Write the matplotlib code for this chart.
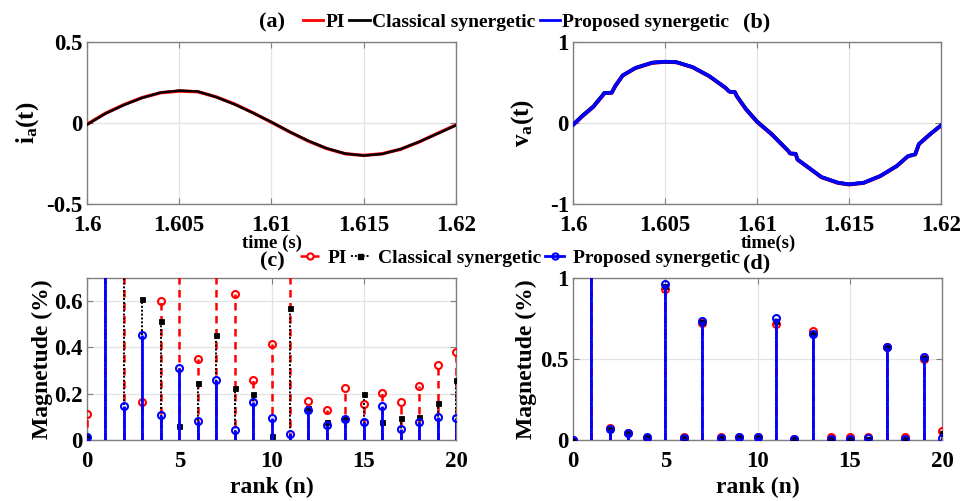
import numpy as np
import matplotlib
matplotlib.use("Agg")
import matplotlib.pyplot as plt
from matplotlib.lines import Line2D
from matplotlib.legend_handler import HandlerLine2D

plt.rcParams.update({
    "font.family": ["Liberation Serif", "DejaVu Serif"],
    "font.weight": "bold",
    "axes.labelweight": "bold",
    "axes.unicode_minus": False,
    "mathtext.fontset": "custom",
    "mathtext.rm": "Liberation Serif:bold",
    "mathtext.it": "Liberation Serif:bold",
    "mathtext.bf": "Liberation Serif:bold",
})

# ---------------- data ----------------
# phase current i_a(t)
t_cur = [1.600, 1.601, 1.602, 1.603, 1.604, 1.605, 1.606, 1.607, 1.608, 1.609, 1.610,
         1.611, 1.612, 1.613, 1.614, 1.615, 1.616, 1.617, 1.618, 1.619, 1.620]
i_pi = [-0.008, 0.060, 0.113, 0.157, 0.187, 0.197, 0.193, 0.161, 0.117, 0.063, 0.004,
        -0.056, -0.112, -0.158, -0.190, -0.200, -0.190, -0.162, -0.117, -0.064, -0.012]
i_cs = [-0.010, 0.058, 0.111, 0.156, 0.188, 0.200, 0.195, 0.160, 0.115, 0.062, 0.006,
        -0.055, -0.110, -0.157, -0.189, -0.201, -0.191, -0.161, -0.116, -0.066, -0.014]
i_ps = [-0.010, 0.059, 0.112, 0.156, 0.188, 0.199, 0.195, 0.161, 0.116, 0.062, 0.005,
        -0.055, -0.111, -0.157, -0.189, -0.200, -0.190, -0.161, -0.116, -0.065, -0.013]

# phase voltage v_a(t)
t_vol = [1.6000, 1.6005, 1.6011, 1.6016, 1.6017, 1.6021, 1.6023, 1.6027, 1.6034, 1.6043,
         1.6050, 1.6056, 1.6065, 1.6074, 1.6083, 1.6085, 1.6088, 1.6089, 1.6094, 1.6100,
         1.6108, 1.6117, 1.6118, 1.6121, 1.6122, 1.6128, 1.6135, 1.6144, 1.6150, 1.6158,
         1.6167, 1.6176, 1.6182, 1.6186, 1.6188, 1.6194, 1.6200]
v_pi = [-0.025, 0.082, 0.198, 0.335, 0.368, 0.372, 0.455, 0.585, 0.678, 0.742,
        0.755, 0.750, 0.688, 0.578, 0.430, 0.386, 0.380, 0.330, 0.168, 0.015,
        -0.142, -0.347, -0.377, -0.382, -0.452, -0.552, -0.670, -0.740, -0.760, -0.740,
        -0.657, -0.532, -0.412, -0.388, -0.262, -0.142, -0.032]
v_cs = [-0.020, 0.090, 0.205, 0.342, 0.372, 0.375, 0.458, 0.588, 0.680, 0.745,
        0.757, 0.752, 0.690, 0.580, 0.433, 0.388, 0.382, 0.336, 0.175, 0.022,
        -0.135, -0.343, -0.375, -0.380, -0.450, -0.550, -0.667, -0.737, -0.757, -0.737,
        -0.654, -0.530, -0.410, -0.385, -0.258, -0.138, -0.028]
v_ps = [-0.025, 0.084, 0.199, 0.337, 0.370, 0.374, 0.458, 0.588, 0.681, 0.745,
        0.757, 0.753, 0.690, 0.580, 0.433, 0.387, 0.381, 0.332, 0.170, 0.015,
        -0.140, -0.345, -0.376, -0.380, -0.450, -0.550, -0.667, -0.737, -0.757, -0.737,
        -0.654, -0.530, -0.410, -0.386, -0.260, -0.140, -0.030]

# harmonic spectra (percent of fundamental), rank 0..20
rank = list(range(21))
c_pi = [0.112, 100.0, 0.95, 0.165, 0.600, 0.90, 0.350, 0.85, 0.630, 0.258, 0.413,
        0.80, 0.168, 0.130, 0.226, 0.155, 0.205, 0.166, 0.232, 0.323, 0.382]
c_cs = [0.015, 100.0, 0.85, 0.608, 0.513, 0.060, 0.247, 0.455, 0.223, 0.199, 0.019,
        0.570, 0.138, 0.077, 0.090, 0.199, 0.077, 0.096, 0.101, 0.158, 0.261]
c_ps = [0.014, 100.0, 0.145, 0.455, 0.110, 0.309, 0.084, 0.259, 0.045, 0.164, 0.093,
        0.028, 0.131, 0.065, 0.092, 0.077, 0.149, 0.047, 0.076, 0.100, 0.093]

d_pi = [0.000, 100.0, 0.077, 0.043, 0.015, 0.932, 0.021, 0.722, 0.020, 0.020, 0.021,
        0.717, 0.008, 0.670, 0.021, 0.020, 0.021, 0.577, 0.016, 0.500, 0.056]
d_cs = [0.000, 100.0, 0.070, 0.044, 0.018, 0.950, 0.016, 0.728, 0.016, 0.019, 0.019,
        0.735, 0.008, 0.662, 0.008, 0.008, 0.005, 0.576, 0.008, 0.507, 0.042]
d_ps = [0.000, 100.0, 0.066, 0.045, 0.020, 0.960, 0.015, 0.736, 0.015, 0.020, 0.020,
        0.753, 0.008, 0.654, 0.005, 0.005, 0.010, 0.577, 0.005, 0.513, 0.010]

time_ticks = [1.6, 1.605, 1.61, 1.615, 1.62]
time_ticklabels = ["1.6", "1.605", "1.61", "1.615", "1.62"]
rank_ticks = [0, 5, 10, 15, 20]

RED, BLACK, BLUE = "#ff0000", "#000000", "#0000ff"
SPINE = "#808080"
GRID = "#e3e3e3"
TICK_FONT = {"fontsize": 16.5, "fontweight": "bold"}

# ---------------- figure ----------------
W, H = 971, 501
fig = plt.figure(figsize=(W / 100, H / 100), dpi=100)


def box(l, t, r, b):
    return [l / W, 1 - b / H, (r - l) / W, (b - t) / H]


ax_a = fig.add_axes(box(87, 42, 456, 204))
ax_b = fig.add_axes(box(573, 42, 941, 204))
ax_c = fig.add_axes(box(87, 278, 456, 440))
ax_d = fig.add_axes(box(573, 278, 942, 440))


def style(ax):
    for s in ax.spines.values():
        s.set_color(SPINE)
        s.set_linewidth(1.0)
    ax.tick_params(direction="in", top=True, right=True, length=4, width=0.8,
                   color=SPINE, labelcolor="black")
    ax.tick_params(axis="x", pad=8)
    ax.tick_params(axis="y", pad=3)
    ax.grid(True, color=GRID, linewidth=0.9)
    ax.set_axisbelow(True)


# (a) current
ax_a.plot(t_cur, i_ps, color=BLUE, lw=1.6, zorder=2)
ax_a.plot(t_cur, i_pi, color=RED, lw=2.4, zorder=3)
ax_a.plot(t_cur, i_cs, color=BLACK, lw=1.7, zorder=4)
ax_a.set_xlim(1.6, 1.62)
ax_a.set_ylim(-0.5, 0.5)
ax_a.set_xticks(time_ticks, time_ticklabels, **TICK_FONT)
ax_a.set_yticks([-0.5, 0, 0.5], ["-0.5", "0", "0.5"], **TICK_FONT)
ax_a.set_ylabel(r"$\mathbf{i_a(t)}$", fontsize=18)
ax_a.yaxis.set_label_coords(-0.125, 0.5)
ax_a.set_xlabel("time (s)", fontsize=13.5)
ax_a.xaxis.set_label_coords(0.5, -0.19)
style(ax_a)

# (b) voltage
ax_b.plot(t_vol, v_pi, color=RED, lw=2.8, zorder=2)
ax_b.plot(t_vol, v_cs, color=BLACK, lw=2.5, zorder=3)
ax_b.plot(t_vol, v_ps, color=BLUE, lw=2.6, zorder=4)
ax_b.set_xlim(1.6, 1.62)
ax_b.set_ylim(-1, 1)
ax_b.set_xticks(time_ticks, time_ticklabels, **TICK_FONT)
ax_b.set_yticks([-1, 0, 1], ["-1", "0", "1"], **TICK_FONT)
ax_b.set_ylabel(r"$\mathbf{v_a(t)}$", fontsize=18)
ax_b.yaxis.set_label_coords(-0.1, 0.5)
ax_b.set_xlabel("time(s)", fontsize=13.5)
ax_b.xaxis.set_label_coords(0.53, -0.19)
style(ax_b)


def spectrum(ax, pi, cs, ps):
    m, s, b = ax.stem(rank, pi, basefmt=" ")
    m.set(marker="o", markersize=5, markerfacecolor="none", markeredgecolor=RED,
          markeredgewidth=1.5, zorder=3)
    s.set(color=RED, linestyle=(0, (3, 2.2)), linewidth=1.8, zorder=3)
    m, s, b = ax.stem(rank, cs, basefmt=" ")
    m.set(marker="s", markersize=3.6, markerfacecolor=BLACK, markeredgecolor=BLACK,
          markeredgewidth=0.6, zorder=4)
    s.set(color=BLACK, linestyle=(0, (1, 1)), linewidth=1.4, zorder=4)
    m, s, b = ax.stem(rank, ps, basefmt=" ")
    m.set(marker="o", markersize=5, markerfacecolor="none", markeredgecolor=BLUE,
          markeredgewidth=1.5, zorder=5)
    s.set(color=BLUE, linestyle="-", linewidth=2.0, zorder=5)
    ax.set_xlim(0, 20)
    ax.set_xticks(rank_ticks, [str(v) for v in rank_ticks], **TICK_FONT)
    ax.set_xlabel("rank (n)", fontsize=17)
    ax.xaxis.set_label_coords(0.5, -0.225)
    ax.set_ylabel("Magnetude (%)", fontsize=17)


# (c) current spectrum
spectrum(ax_c, c_pi, c_cs, c_ps)
ax_c.set_ylim(0, 0.7)
ax_c.set_yticks([0, 0.2, 0.4, 0.6], ["0", "0.2", "0.4", "0.6"], **TICK_FONT)
ax_c.yaxis.set_label_coords(-0.092, 0.5)
style(ax_c)

# (d) voltage spectrum
spectrum(ax_d, d_pi, d_cs, d_ps)
ax_d.set_ylim(0, 1)
ax_d.set_yticks([0, 0.5, 1], ["0", "0.5", "1"], **TICK_FONT)
ax_d.yaxis.set_label_coords(-0.098, 0.5)
style(ax_d)

# panel tags
for x, y, tag in [(272, 22, "(a)"), (757, 22, "(b)"), (272, 261, "(c)"), (757, 263, "(d)")]:
    fig.text(x / W, 1 - y / H, tag, ha="center", va="center", fontsize=16, fontweight="bold")

# legend for the waveforms
wave_handles = [Line2D([], [], color=RED, lw=2),
                Line2D([], [], color=BLACK, lw=2),
                Line2D([], [], color=BLUE, lw=2)]
names = ["PI", "Classical synergetic", "Proposed synergetic"]
fig.legend(wave_handles, names, loc="center", bbox_to_anchor=(516 / W, 1 - 22 / H),
           ncol=3, frameon=False, prop={"size": 14, "weight": "bold"},
           handlelength=1.05, handletextpad=0.1, columnspacing=0.25, borderpad=0)


class StemHandler(HandlerLine2D):
    def get_xdata(self, legend, xdescent, ydescent, width, height, fontsize):
        xd = np.array([-xdescent, -xdescent + width])
        return xd, np.array([-xdescent + width])


stem_handles = [
    Line2D([], [], color=RED, lw=1.8, linestyle=(0, (3, 2.2)), marker="o", markersize=4.5,
           markerfacecolor="none", markeredgecolor=RED, markeredgewidth=1.5),
    Line2D([], [], color=BLACK, lw=1.4, linestyle=(0, (1, 1)), marker="s", markersize=3.6,
           markerfacecolor=BLACK, markeredgecolor=BLACK),
    Line2D([], [], color=BLUE, lw=2.0, marker="o", markersize=4.5,
           markerfacecolor="none", markeredgecolor=BLUE, markeredgewidth=1.5),
]
fig.legend(stem_handles, names, loc="center", bbox_to_anchor=(520 / W, 1 - 258 / H),
           ncol=3, frameon=False, prop={"size": 14, "weight": "bold"},
           handlelength=0.95, handletextpad=0.45, columnspacing=0.2, borderpad=0,
           handler_map={Line2D: StemHandler()})

fig.savefig("out.png", dpi=100)
